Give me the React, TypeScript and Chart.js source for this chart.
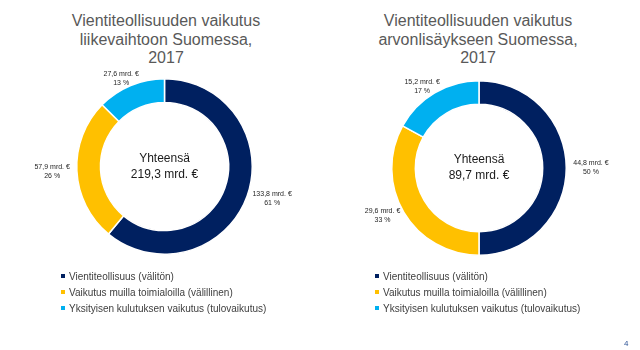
import React, { useEffect, useRef } from "react";
import { Chart, registerables } from "chart.js";

Chart.register(...registerables);

const categories = [
  "Vientiteollisuus (välitön)",
  "Vaikutus muilla toimialoilla (välillinen)",
  "Yksityisen kulutuksen vaikutus (tulovaikutus)",
];
const colors = ["#002060", "#FFC000", "#00B0F0"];

const titleLeft = ["Vientiteollisuuden vaikutus", "liikevaihtoon Suomessa,", "2017"];
const titleRight = ["Vientiteollisuuden vaikutus", "arvonlisäykseen Suomessa,", "2017"];

const valuesLeft = [133.8, 57.9, 27.6];
const percentLeft = [61, 26, 13];
const totalLeft = 219.3;

const valuesRight = [44.8, 29.6, 15.2];
const percentRight = [50, 33, 17];
const totalRight = 89.7;

const centerTitle = "Yhteensä";
const unit = "mrd. €";
const pageNumber = "4";

const FONT = '"Liberation Sans", Arial, sans-serif';

const fmt = (v: number) => v.toFixed(1).replace(".", ",");

type DonutProps = {
  values: number[];
  percents: number[];
  total: number;
  left: number;
  padding: { left: number; right: number; top: number; bottom: number };
};

function Donut({ values, percents, total, left, padding }: DonutProps) {
  const ref = useRef<HTMLCanvasElement | null>(null);
  useEffect(() => {
    if (!ref.current) return;
    const labelPlugin = {
      id: "donutLabels",
      afterDraw(chart: any) {
        const ctx = chart.ctx;
        const meta = chart.getDatasetMeta(0);
        ctx.save();
        // center text
        const a0 = meta.data[0];
        const cx = a0.x;
        const cy = a0.y;
        ctx.fillStyle = "#1a1a1a";
        ctx.font = `12px ${FONT}`;
        ctx.textAlign = "center";
        ctx.textBaseline = "middle";
        ctx.fillText(centerTitle, cx, cy - 8);
        ctx.fillText(`${fmt(total)} ${unit}`, cx, cy + 8);
        // outside labels
        ctx.font = `7px ${FONT}`;
        ctx.fillStyle = "#262626";
        meta.data.forEach((arc: any, i: number) => {
          const mid = (arc.startAngle + arc.endAngle) / 2;
          const dx = Math.cos(mid);
          const dy = Math.sin(mid);
          const l1 = `${fmt(values[i])} ${unit}`;
          const l2 = `${percents[i]} %`;
          const w = Math.max(ctx.measureText(l1).width, ctx.measureText(l2).width);
          const R = arc.outerRadius + 7;
          const x = arc.x + dx * R + (dx * w) / 2;
          const y = arc.y + dy * R;
          ctx.fillText(l1, x, y - 4.5);
          ctx.fillText(l2, x, y + 4.5);
        });
        ctx.restore();
      },
    };
    const chart = new Chart(ref.current, {
      type: "doughnut",
      data: {
        labels: categories,
        datasets: [
          {
            data: values,
            backgroundColor: colors,
            borderColor: "#ffffff",
            borderWidth: 1.5,
          },
        ],
      },
      options: {
        responsive: false,
        animation: false,
        cutout: "73%",
        layout: { padding },
        plugins: {
          legend: { display: false },
          tooltip: { enabled: false },
          title: { display: false },
        },
      },
      plugins: [labelPlugin],
    });
    return () => chart.destroy();
  }, []);
  return (
    <canvas
      ref={ref}
      width={320}
      height={350}
      style={{ position: "absolute", left, top: 0, width: 320, height: 350 }}
    />
  );
}

function Title({ lines, cx }: { lines: string[]; cx: number }) {
  return (
    <div
      style={{
        position: "absolute",
        left: cx - 160,
        top: 12,
        width: 320,
        textAlign: "center",
        fontFamily: FONT,
        fontSize: 16,
        lineHeight: "18.5px",
        color: "#595959",
      }}
    >
      {lines.map((l, i) => (
        <div key={i}>{l}</div>
      ))}
    </div>
  );
}

function Legend({ x }: { x: number }) {
  return (
    <div style={{ position: "absolute", left: x, top: 268, fontFamily: FONT }}>
      {categories.map((c, i) => (
        <div
          key={i}
          style={{
            display: "flex",
            alignItems: "center",
            height: 16,
            fontSize: 10,
            color: "#404040",
            whiteSpace: "nowrap",
          }}
        >
          <span
            style={{
              display: "inline-block",
              width: 4,
              height: 4,
              background: colors[i],
              marginRight: 4,
            }}
          />
          <span>{c}</span>
        </div>
      ))}
    </div>
  );
}

export default function App() {
  return (
    <div
      style={{
        position: "fixed",
        left: 0,
        top: 0,
        width: 640,
        height: 350,
        background: "#ffffff",
        overflow: "hidden",
      }}
    >
      <Title lines={titleLeft} cx={166} />
      <Title lines={titleRight} cx={478} />
      <Donut
        values={valuesLeft}
        percents={percentLeft}
        total={totalLeft}
        left={0}
        padding={{ left: 76, right: 67, top: 78, bottom: 95 }}
      />
      <Donut
        values={valuesRight}
        percents={percentRight}
        total={totalRight}
        left={320}
        padding={{ left: 71, right: 73, top: 80, bottom: 94 }}
      />
      <Legend x={61} />
      <Legend x={375} />
      <div
        style={{
          position: "absolute",
          left: 624,
          top: 339,
          fontFamily: FONT,
          fontSize: 8,
          color: "#2F5597",
        }}
      >
        {pageNumber}
      </div>
    </div>
  );
}
